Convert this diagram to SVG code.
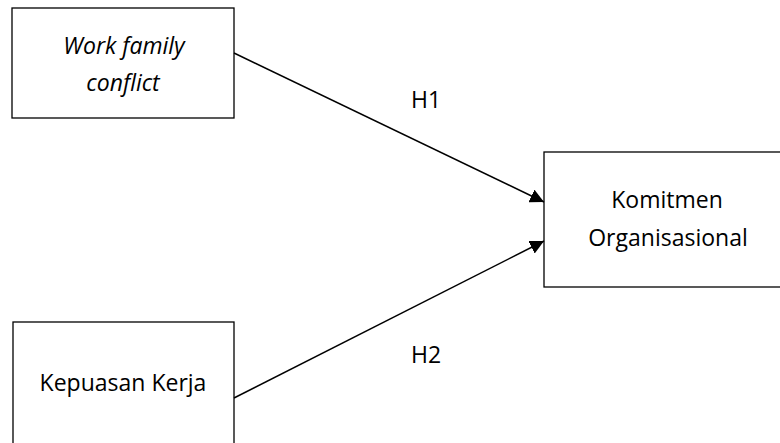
<svg xmlns="http://www.w3.org/2000/svg" width="780" height="443" viewBox="0 0 780 443">
<style>
.box{fill:#fff;stroke:#000;stroke-width:1.3}
.t{font-family:"Open Sans","Noto Sans",sans-serif;font-size:23px;fill:#000;text-anchor:middle}
.i{font-style:italic}
.c{stroke:#000;stroke-width:1.5;fill:none}
</style>
<defs>
<marker id="a" viewBox="0 0 12 12" refX="12" refY="6" markerWidth="14" markerHeight="14" orient="auto" markerUnits="userSpaceOnUse">
<path d="M0,0 L12,6 L0,12 z" fill="#000"/>
</marker>
</defs>
<g id="wfc">
<rect class="box" x="12" y="8" width="222" height="110"/>
<text class="t i" x="124" y="54">Work family</text>
<text class="t i" x="123" y="91">conflict</text>
</g>
<g id="kk">
<rect class="box" x="13" y="322" width="221" height="130"/>
<text class="t" x="123" y="391">Kepuasan Kerja</text>
</g>
<g id="ko">
<rect class="box" x="544" y="152" width="240" height="135"/>
<text class="t" x="667" y="208">Komitmen</text>
<text class="t" x="668" y="246">Organisasional</text>
</g>
<g id="connectors">
<line class="c" x1="234" y1="53" x2="544" y2="202" marker-end="url(#a)"/>
<line class="c" x1="234" y1="398" x2="544" y2="241" marker-end="url(#a)"/>
<text class="t" x="426" y="108">H1</text>
<text class="t" x="426" y="363">H2</text>
</g>
</svg>
